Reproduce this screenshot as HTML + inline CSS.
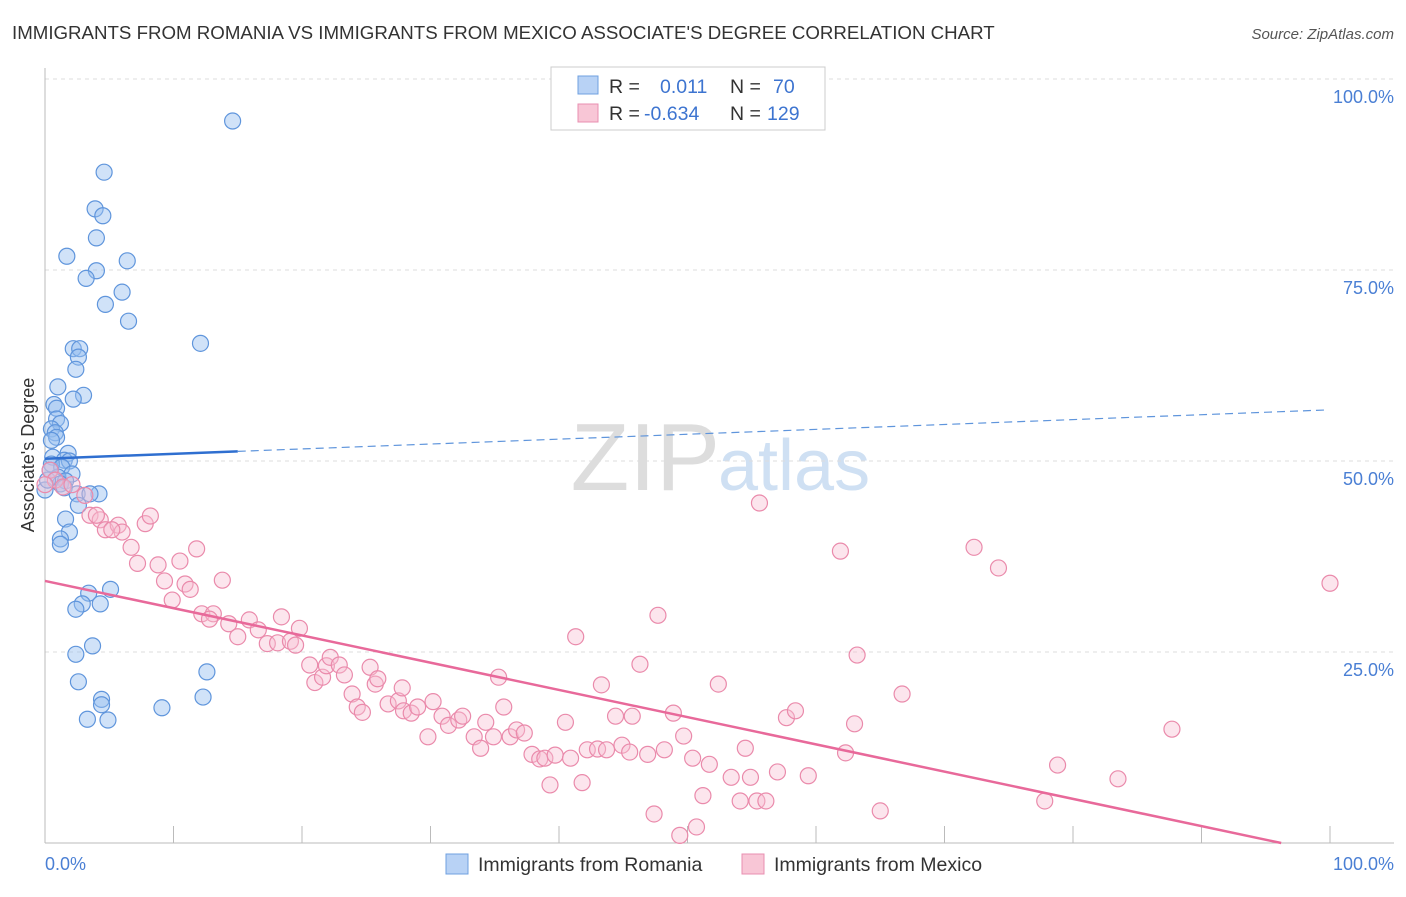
<!DOCTYPE html>
<html><head><meta charset="utf-8"><style>
body{margin:0;background:#fff;font-family:"Liberation Sans",sans-serif}
svg text{font-family:"Liberation Sans",sans-serif}
</style></head><body>
<svg id="chart" width="1406" height="892">
<text x="12" y="39" font-size="18.7" fill="#333">IMMIGRANTS FROM ROMANIA VS IMMIGRANTS FROM MEXICO ASSOCIATE'S DEGREE CORRELATION CHART</text>
<text x="1394" y="39" font-size="15" font-style="italic" fill="#555" text-anchor="end">Source: ZipAtlas.com</text>
<text x="720" y="490" font-size="96" fill="#ddd" text-anchor="end" font-family="Liberation Serif">ZIP</text>
<text x="718" y="490" font-size="72" fill="#cfe0f3">atlas</text>
<g id="grid"></g><g id="axes"></g><g id="pts"></g><g id="trend"></g>
<text transform="translate(34,455) rotate(-90)" font-size="18" fill="#333" text-anchor="middle">Associate's Degree</text>
<text x="45" y="870" font-size="18" fill="#4a7fd4">0.0%</text>
<text x="1394" y="870" font-size="18" fill="#4a7fd4" text-anchor="end">100.0%</text>
<g>
<rect x="551" y="67" width="274" height="63" fill="#fff" stroke="#ccc"/>
<rect x="578" y="76" width="20" height="18" fill="#b8d2f5" stroke="#6fa0e0"/>
<rect x="578" y="104" width="20" height="18" fill="#f8c6d6" stroke="#e88fb0"/>
<text x="609" y="93" font-size="19.5" fill="#333">R =</text><text x="660" y="93" font-size="19.5" fill="#3d74d0">0.011</text>
<text x="730" y="93" font-size="19.5" fill="#333">N =</text><text x="773" y="93" font-size="19.5" fill="#3d74d0">70</text>
<text x="609" y="120" font-size="19.5" fill="#333">R =</text><text x="644" y="120" font-size="19.5" fill="#3d74d0">-0.634</text>
<text x="730" y="120" font-size="19.5" fill="#333">N =</text><text x="767" y="120" font-size="19.5" fill="#3d74d0">129</text>
</g>
<g>
<rect x="446" y="854" width="22" height="20" fill="#b8d2f5" stroke="#6fa0e0"/>
<text x="478" y="871" font-size="19.5" fill="#333">Immigrants from Romania</text>
<rect x="742" y="854" width="22" height="20" fill="#f8c6d6" stroke="#e88fb0"/>
<text x="774" y="871" font-size="19.5" fill="#333">Immigrants from Mexico</text>
</g>
</svg>
<script>
const yTicks=[25,50,75,100];
const yTickLabels=["25.0%","50.0%","75.0%","100.0%"];
const xTicks=[0,10,20,30,40,50,60,70,80,90,100];
const romaniaX=[14.6,4.6,3.9,4.5,4.0,1.7,6.4,4.0,3.2,6.0,4.7,6.5,12.1,2.2,2.7,2.6,2.4,1.0,3.0,2.2,0.7,0.9,0.9,1.2,0.5,0.8,0.9,0.5,1.8,0.6,1.5,1.9,0.5,1.3,2.1,1.0,1.6,1.2,1.5,2.5,4.2,3.5,2.6,1.6,1.9,1.2,1.2,5.1,3.4,2.9,4.3,2.4,3.7,2.4,12.6,2.6,4.4,12.3,4.4,9.1,3.3,4.9,0,0.2,0.4];
const romaniaY=[94.5,87.8,83.0,82.1,79.2,76.8,76.2,74.9,73.9,72.1,70.5,68.3,65.4,64.7,64.7,63.6,62.0,59.7,58.6,58.1,57.4,56.9,55.5,54.9,54.2,53.7,53.1,52.7,51.0,50.5,50.1,50.0,49.6,49.2,48.3,47.9,47.4,47.0,46.5,45.7,45.7,45.7,44.2,42.4,40.7,39.8,39.1,33.2,32.7,31.3,31.3,30.6,25.8,24.7,22.4,21.1,18.8,19.1,18.1,17.7,16.2,16.1,46.2,47.5,48.8];
const mexicoX=[0.4,0.8,1.4,2.1,3.1,3.5,4.3,4.0,4.7,5.7,6.0,5.2,7.8,8.2,6.7,7.2,8.8,10.5,11.8,9.3,10.9,11.3,9.9,13.8,12.2,13.1,12.8,14.3,15.0,15.9,16.6,17.3,18.4,18.1,19.1,19.5,19.8,20.6,21.0,21.6,21.9,22.2,22.9,23.3,23.9,24.3,24.7,25.3,25.7,25.9,26.7,27.5,27.8,27.9,28.5,29.0,30.2,29.8,30.9,31.4,32.2,32.5,33.4,33.9,34.3,34.9,35.3,35.7,36.2,36.7,37.3,37.9,38.5,38.9,39.7,39.3,40.5,40.9,41.3,41.8,42.2,43.0,43.3,43.7,44.4,44.9,45.5,45.7,46.3,46.9,47.7,48.2,48.9,49.7,50.4,51.2,51.7,52.4,53.4,54.1,54.5,54.9,55.4,55.6,56.1,57.0,57.7,58.4,59.4,61.9,62.3,63.0,63.2,65.0,66.7,72.3,74.2,77.8,78.8,83.5,87.7,100,47.4,49.4,50.7,0];
const mexicoY=[48.8,47.5,46.6,46.9,45.5,42.9,42.3,42.9,41.0,41.6,40.7,41.0,41.8,42.8,38.7,36.6,36.4,36.9,38.5,34.3,33.9,33.2,31.8,34.4,30.0,30.0,29.3,28.7,27.0,29.2,27.9,26.1,29.6,26.2,26.4,25.9,28.1,23.3,21.0,21.7,23.2,24.3,23.3,22.0,19.5,17.8,17.1,23.0,20.8,21.5,18.2,18.6,20.3,17.3,17.0,17.8,18.5,13.9,16.6,15.4,16.1,16.6,13.9,12.4,15.8,13.9,21.7,17.8,13.9,14.8,14.4,11.6,11.0,11.1,11.5,7.6,15.8,11.1,27.0,7.9,12.2,12.3,20.7,12.2,16.6,12.8,11.9,16.6,23.4,11.6,29.8,12.2,17.0,14.0,11.1,6.2,10.3,20.8,8.6,5.5,12.4,8.6,5.5,44.5,5.5,9.3,16.4,17.3,8.8,38.2,11.8,15.6,24.6,4.2,19.5,38.7,36.0,5.5,10.2,8.4,14.9,34.0,3.8,1.0,2.1,46.9];
const blueTrend=[50.3,56.7];
const pinkTrend=[34.3,0];
const X=v=>45+v*12.85, Y=v=>843-v*7.64;
const NS="http://www.w3.org/2000/svg";
function mk(parent,tag,attrs){const e=document.createElementNS(NS,tag);for(const k in attrs)e.setAttribute(k,attrs[k]);document.getElementById(parent).appendChild(e);return e;}
yTicks.forEach((t,i)=>{
 const g=mk('grid','line',{x1:45,x2:1394,y1:Y(t),y2:Y(t),stroke:'#ddd','stroke-dasharray':'4,4'});
 
 
 const l=mk('grid','text',{x:1394,y:Y(t)+24,'font-size':18,fill:'#4a7fd4','text-anchor':'end'});
 l.textContent=yTickLabels[i];
 
 
});
const ax=mk('axes','line',{x1:45,x2:45,y1:68,y2:843,stroke:'#bbb'});


const bx=mk('axes','line',{x1:45,x2:1394,y1:843,y2:843,stroke:'#bbb'});


xTicks.forEach(t=>{
 const k=mk('axes','line',{x1:X(t),x2:X(t),y1:826,y2:843,stroke:'#bbb'});
 
 
});
romaniaX.forEach((x,i)=>{
 const c=mk('pts','circle',{cx:X(x),cy:Y(romaniaY[i]),r:8,fill:'rgba(150,190,240,0.45)',stroke:'#5f95dc','stroke-width':1.2});
 
 
});
mexicoX.forEach((x,i)=>{
 const c=mk('pts','circle',{cx:X(x),cy:Y(mexicoY[i]),r:8,fill:'rgba(248,190,210,0.4)',stroke:'#ea8aab','stroke-width':1.2});
 
 
});
const bs=v=>blueTrend[0]+(blueTrend[1]-blueTrend[0])*v/100;
const t1=mk('trend','line',{x1:X(0),y1:Y(bs(0)),x2:X(15),y2:Y(bs(15)),stroke:'#2f6fd0','stroke-width':2.5});


const t2=mk('trend','line',{x1:X(15),y1:Y(bs(15)),x2:X(99.6),y2:Y(bs(99.6)),stroke:'#5f95dc','stroke-width':1.2,'stroke-dasharray':'8,5'});


const ps=v=>pinkTrend[0]+(pinkTrend[1]-pinkTrend[0])*v/96.2;
const t3=mk('trend','line',{x1:X(0),y1:Y(ps(0)),x2:X(96.2),y2:Y(ps(96.2)),stroke:'#e8699a','stroke-width':2.5});


</script>
</body></html>
